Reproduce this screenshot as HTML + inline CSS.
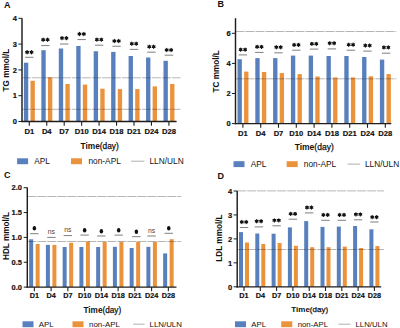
<!DOCTYPE html>
<html><head><meta charset="utf-8"><style>
html,body{margin:0;padding:0;background:#fff;width:400px;height:328px;overflow:hidden}
svg{display:block}
text{font-family:"Liberation Sans", sans-serif}
</style></head><body>
<svg width="400" height="328" viewBox="0 0 400 328">
<rect width="400" height="328" fill="#fff"/>
<rect x="23.90" y="62.7" width="4.35" height="58.80" fill="#5880bd"/>
<rect x="30.50" y="80.8" width="4.35" height="40.70" fill="#eb923c"/>
<line x1="25.10" y1="57.3" x2="33.50" y2="57.3" stroke="#5e5e5e" stroke-width="0.8"/>
<line x1="27.10" y1="50.60" x2="27.10" y2="53.80" stroke="#111" stroke-width="1.15" stroke-linecap="round"/><line x1="25.71" y1="51.40" x2="28.49" y2="53.00" stroke="#111" stroke-width="1.15" stroke-linecap="round"/><line x1="28.49" y1="51.40" x2="25.71" y2="53.00" stroke="#111" stroke-width="1.15" stroke-linecap="round"/><circle cx="27.10" cy="52.20" r="1.25" fill="#111"/>
<line x1="31.50" y1="50.60" x2="31.50" y2="53.80" stroke="#111" stroke-width="1.15" stroke-linecap="round"/><line x1="30.11" y1="51.40" x2="32.89" y2="53.00" stroke="#111" stroke-width="1.15" stroke-linecap="round"/><line x1="32.89" y1="51.40" x2="30.11" y2="53.00" stroke="#111" stroke-width="1.15" stroke-linecap="round"/><circle cx="31.50" cy="52.20" r="1.25" fill="#111"/>
<line x1="29.30" y1="121.5" x2="29.30" y2="125.7" stroke="#1e1e1e" stroke-width="1.1"/>
<text x="29.30" y="134.2" font-size="7.6" font-weight="bold" text-anchor="middle" fill="#111" stroke="#111" stroke-width="0.18">D1</text>
<rect x="41.35" y="50.2" width="4.35" height="71.30" fill="#5880bd"/>
<rect x="47.95" y="77.2" width="4.35" height="44.30" fill="#eb923c"/>
<line x1="41.15" y1="45.6" x2="49.55" y2="45.6" stroke="#5e5e5e" stroke-width="0.8"/>
<line x1="43.15" y1="38.15" x2="43.15" y2="41.35" stroke="#111" stroke-width="1.15" stroke-linecap="round"/><line x1="41.76" y1="38.95" x2="44.54" y2="40.55" stroke="#111" stroke-width="1.15" stroke-linecap="round"/><line x1="44.54" y1="38.95" x2="41.76" y2="40.55" stroke="#111" stroke-width="1.15" stroke-linecap="round"/><circle cx="43.15" cy="39.75" r="1.25" fill="#111"/>
<line x1="47.55" y1="38.15" x2="47.55" y2="41.35" stroke="#111" stroke-width="1.15" stroke-linecap="round"/><line x1="46.16" y1="38.95" x2="48.94" y2="40.55" stroke="#111" stroke-width="1.15" stroke-linecap="round"/><line x1="48.94" y1="38.95" x2="46.16" y2="40.55" stroke="#111" stroke-width="1.15" stroke-linecap="round"/><circle cx="47.55" cy="39.75" r="1.25" fill="#111"/>
<line x1="46.75" y1="121.5" x2="46.75" y2="125.7" stroke="#1e1e1e" stroke-width="1.1"/>
<text x="46.75" y="134.2" font-size="7.6" font-weight="bold" text-anchor="middle" fill="#111" stroke="#111" stroke-width="0.18">D4</text>
<rect x="58.80" y="48.5" width="4.35" height="73.00" fill="#5880bd"/>
<rect x="65.40" y="84.0" width="4.35" height="37.50" fill="#eb923c"/>
<line x1="60.00" y1="44.0" x2="68.40" y2="44.0" stroke="#5e5e5e" stroke-width="0.8"/>
<line x1="62.00" y1="36.50" x2="62.00" y2="39.70" stroke="#111" stroke-width="1.15" stroke-linecap="round"/><line x1="60.61" y1="37.30" x2="63.39" y2="38.90" stroke="#111" stroke-width="1.15" stroke-linecap="round"/><line x1="63.39" y1="37.30" x2="60.61" y2="38.90" stroke="#111" stroke-width="1.15" stroke-linecap="round"/><circle cx="62.00" cy="38.10" r="1.25" fill="#111"/>
<line x1="66.40" y1="36.50" x2="66.40" y2="39.70" stroke="#111" stroke-width="1.15" stroke-linecap="round"/><line x1="65.01" y1="37.30" x2="67.79" y2="38.90" stroke="#111" stroke-width="1.15" stroke-linecap="round"/><line x1="67.79" y1="37.30" x2="65.01" y2="38.90" stroke="#111" stroke-width="1.15" stroke-linecap="round"/><circle cx="66.40" cy="38.10" r="1.25" fill="#111"/>
<line x1="64.20" y1="121.5" x2="64.20" y2="125.7" stroke="#1e1e1e" stroke-width="1.1"/>
<text x="64.20" y="134.2" font-size="7.6" font-weight="bold" text-anchor="middle" fill="#111" stroke="#111" stroke-width="0.18">D7</text>
<rect x="76.25" y="46.0" width="4.35" height="75.50" fill="#5880bd"/>
<rect x="82.85" y="84.6" width="4.35" height="36.90" fill="#eb923c"/>
<line x1="77.45" y1="39.6" x2="85.85" y2="39.6" stroke="#5e5e5e" stroke-width="0.8"/>
<line x1="79.45" y1="32.40" x2="79.45" y2="35.60" stroke="#111" stroke-width="1.15" stroke-linecap="round"/><line x1="78.06" y1="33.20" x2="80.84" y2="34.80" stroke="#111" stroke-width="1.15" stroke-linecap="round"/><line x1="80.84" y1="33.20" x2="78.06" y2="34.80" stroke="#111" stroke-width="1.15" stroke-linecap="round"/><circle cx="79.45" cy="34.00" r="1.25" fill="#111"/>
<line x1="83.85" y1="32.40" x2="83.85" y2="35.60" stroke="#111" stroke-width="1.15" stroke-linecap="round"/><line x1="82.46" y1="33.20" x2="85.24" y2="34.80" stroke="#111" stroke-width="1.15" stroke-linecap="round"/><line x1="85.24" y1="33.20" x2="82.46" y2="34.80" stroke="#111" stroke-width="1.15" stroke-linecap="round"/><circle cx="83.85" cy="34.00" r="1.25" fill="#111"/>
<line x1="81.65" y1="121.5" x2="81.65" y2="125.7" stroke="#1e1e1e" stroke-width="1.1"/>
<text x="81.65" y="134.2" font-size="7.6" font-weight="bold" text-anchor="middle" fill="#111" stroke="#111" stroke-width="0.18">D10</text>
<rect x="93.70" y="51.25" width="4.35" height="70.25" fill="#5880bd"/>
<rect x="100.30" y="88.7" width="4.35" height="32.80" fill="#eb923c"/>
<line x1="94.90" y1="45.2" x2="103.30" y2="45.2" stroke="#5e5e5e" stroke-width="0.8"/>
<line x1="96.90" y1="38.00" x2="96.90" y2="41.20" stroke="#111" stroke-width="1.15" stroke-linecap="round"/><line x1="95.51" y1="38.80" x2="98.29" y2="40.40" stroke="#111" stroke-width="1.15" stroke-linecap="round"/><line x1="98.29" y1="38.80" x2="95.51" y2="40.40" stroke="#111" stroke-width="1.15" stroke-linecap="round"/><circle cx="96.90" cy="39.60" r="1.25" fill="#111"/>
<line x1="101.30" y1="38.00" x2="101.30" y2="41.20" stroke="#111" stroke-width="1.15" stroke-linecap="round"/><line x1="99.91" y1="38.80" x2="102.69" y2="40.40" stroke="#111" stroke-width="1.15" stroke-linecap="round"/><line x1="102.69" y1="38.80" x2="99.91" y2="40.40" stroke="#111" stroke-width="1.15" stroke-linecap="round"/><circle cx="101.30" cy="39.60" r="1.25" fill="#111"/>
<line x1="99.10" y1="121.5" x2="99.10" y2="125.7" stroke="#1e1e1e" stroke-width="1.1"/>
<text x="99.10" y="134.2" font-size="7.6" font-weight="bold" text-anchor="middle" fill="#111" stroke="#111" stroke-width="0.18">D14</text>
<rect x="111.15" y="51.9" width="4.35" height="69.60" fill="#5880bd"/>
<rect x="117.75" y="89.1" width="4.35" height="32.40" fill="#eb923c"/>
<line x1="112.35" y1="46.25" x2="120.75" y2="46.25" stroke="#5e5e5e" stroke-width="0.8"/>
<line x1="114.35" y1="39.40" x2="114.35" y2="42.60" stroke="#111" stroke-width="1.15" stroke-linecap="round"/><line x1="112.96" y1="40.20" x2="115.74" y2="41.80" stroke="#111" stroke-width="1.15" stroke-linecap="round"/><line x1="115.74" y1="40.20" x2="112.96" y2="41.80" stroke="#111" stroke-width="1.15" stroke-linecap="round"/><circle cx="114.35" cy="41.00" r="1.25" fill="#111"/>
<line x1="118.75" y1="39.40" x2="118.75" y2="42.60" stroke="#111" stroke-width="1.15" stroke-linecap="round"/><line x1="117.36" y1="40.20" x2="120.14" y2="41.80" stroke="#111" stroke-width="1.15" stroke-linecap="round"/><line x1="120.14" y1="40.20" x2="117.36" y2="41.80" stroke="#111" stroke-width="1.15" stroke-linecap="round"/><circle cx="118.75" cy="41.00" r="1.25" fill="#111"/>
<line x1="116.55" y1="121.5" x2="116.55" y2="125.7" stroke="#1e1e1e" stroke-width="1.1"/>
<text x="116.55" y="134.2" font-size="7.6" font-weight="bold" text-anchor="middle" fill="#111" stroke="#111" stroke-width="0.18">D18</text>
<rect x="128.60" y="56.0" width="4.35" height="65.50" fill="#5880bd"/>
<rect x="135.20" y="89.1" width="4.35" height="32.40" fill="#eb923c"/>
<line x1="129.80" y1="49.4" x2="138.20" y2="49.4" stroke="#5e5e5e" stroke-width="0.8"/>
<line x1="131.80" y1="42.10" x2="131.80" y2="45.30" stroke="#111" stroke-width="1.15" stroke-linecap="round"/><line x1="130.41" y1="42.90" x2="133.19" y2="44.50" stroke="#111" stroke-width="1.15" stroke-linecap="round"/><line x1="133.19" y1="42.90" x2="130.41" y2="44.50" stroke="#111" stroke-width="1.15" stroke-linecap="round"/><circle cx="131.80" cy="43.70" r="1.25" fill="#111"/>
<line x1="136.20" y1="42.10" x2="136.20" y2="45.30" stroke="#111" stroke-width="1.15" stroke-linecap="round"/><line x1="134.81" y1="42.90" x2="137.59" y2="44.50" stroke="#111" stroke-width="1.15" stroke-linecap="round"/><line x1="137.59" y1="42.90" x2="134.81" y2="44.50" stroke="#111" stroke-width="1.15" stroke-linecap="round"/><circle cx="136.20" cy="43.70" r="1.25" fill="#111"/>
<line x1="134.00" y1="121.5" x2="134.00" y2="125.7" stroke="#1e1e1e" stroke-width="1.1"/>
<text x="134.00" y="134.2" font-size="7.6" font-weight="bold" text-anchor="middle" fill="#111" stroke="#111" stroke-width="0.18">D21</text>
<rect x="146.05" y="57.5" width="4.35" height="64.00" fill="#5880bd"/>
<rect x="152.65" y="86.4" width="4.35" height="35.10" fill="#eb923c"/>
<line x1="147.25" y1="52.2" x2="155.65" y2="52.2" stroke="#5e5e5e" stroke-width="0.8"/>
<line x1="149.25" y1="45.10" x2="149.25" y2="48.30" stroke="#111" stroke-width="1.15" stroke-linecap="round"/><line x1="147.86" y1="45.90" x2="150.64" y2="47.50" stroke="#111" stroke-width="1.15" stroke-linecap="round"/><line x1="150.64" y1="45.90" x2="147.86" y2="47.50" stroke="#111" stroke-width="1.15" stroke-linecap="round"/><circle cx="149.25" cy="46.70" r="1.25" fill="#111"/>
<line x1="153.65" y1="45.10" x2="153.65" y2="48.30" stroke="#111" stroke-width="1.15" stroke-linecap="round"/><line x1="152.26" y1="45.90" x2="155.04" y2="47.50" stroke="#111" stroke-width="1.15" stroke-linecap="round"/><line x1="155.04" y1="45.90" x2="152.26" y2="47.50" stroke="#111" stroke-width="1.15" stroke-linecap="round"/><circle cx="153.65" cy="46.70" r="1.25" fill="#111"/>
<line x1="151.45" y1="121.5" x2="151.45" y2="125.7" stroke="#1e1e1e" stroke-width="1.1"/>
<text x="151.45" y="134.2" font-size="7.6" font-weight="bold" text-anchor="middle" fill="#111" stroke="#111" stroke-width="0.18">D24</text>
<rect x="163.50" y="60.8" width="4.35" height="60.70" fill="#5880bd"/>
<rect x="170.10" y="84.0" width="4.35" height="37.50" fill="#eb923c"/>
<line x1="164.70" y1="55.2" x2="173.10" y2="55.2" stroke="#5e5e5e" stroke-width="0.8"/>
<line x1="166.70" y1="48.40" x2="166.70" y2="51.60" stroke="#111" stroke-width="1.15" stroke-linecap="round"/><line x1="165.31" y1="49.20" x2="168.09" y2="50.80" stroke="#111" stroke-width="1.15" stroke-linecap="round"/><line x1="168.09" y1="49.20" x2="165.31" y2="50.80" stroke="#111" stroke-width="1.15" stroke-linecap="round"/><circle cx="166.70" cy="50.00" r="1.25" fill="#111"/>
<line x1="171.10" y1="48.40" x2="171.10" y2="51.60" stroke="#111" stroke-width="1.15" stroke-linecap="round"/><line x1="169.71" y1="49.20" x2="172.49" y2="50.80" stroke="#111" stroke-width="1.15" stroke-linecap="round"/><line x1="172.49" y1="49.20" x2="169.71" y2="50.80" stroke="#111" stroke-width="1.15" stroke-linecap="round"/><circle cx="171.10" cy="50.00" r="1.25" fill="#111"/>
<line x1="168.90" y1="121.5" x2="168.90" y2="125.7" stroke="#1e1e1e" stroke-width="1.1"/>
<text x="168.90" y="134.2" font-size="7.6" font-weight="bold" text-anchor="middle" fill="#111" stroke="#111" stroke-width="0.18">D28</text>
<line x1="22" y1="77.8" x2="180.5" y2="77.8" stroke="rgba(40,40,40,0.45)" stroke-width="0.75" stroke-dasharray="9,1"/>
<line x1="22" y1="109.3" x2="180.5" y2="109.3" stroke="rgba(40,40,40,0.45)" stroke-width="0.75" stroke-dasharray="9,1"/>
<line x1="22" y1="18.3" x2="22" y2="122.1" stroke="#1e1e1e" stroke-width="1.45"/>
<line x1="21.3" y1="121.5" x2="176.6" y2="121.5" stroke="#1e1e1e" stroke-width="1.35"/>
<line x1="18.4" y1="121.50" x2="22" y2="121.50" stroke="#1e1e1e" stroke-width="1"/>
<text x="16.8" y="124.25" font-size="7.5" font-weight="bold" text-anchor="end" fill="#111" stroke="#111" stroke-width="0.18">0</text>
<line x1="18.4" y1="95.70" x2="22" y2="95.70" stroke="#1e1e1e" stroke-width="1"/>
<text x="16.8" y="98.45" font-size="7.5" font-weight="bold" text-anchor="end" fill="#111" stroke="#111" stroke-width="0.18">1</text>
<line x1="18.4" y1="69.90" x2="22" y2="69.90" stroke="#1e1e1e" stroke-width="1"/>
<text x="16.8" y="72.65" font-size="7.5" font-weight="bold" text-anchor="end" fill="#111" stroke="#111" stroke-width="0.18">2</text>
<line x1="18.4" y1="44.10" x2="22" y2="44.10" stroke="#1e1e1e" stroke-width="1"/>
<text x="16.8" y="46.85" font-size="7.5" font-weight="bold" text-anchor="end" fill="#111" stroke="#111" stroke-width="0.18">3</text>
<line x1="18.4" y1="18.30" x2="22" y2="18.30" stroke="#1e1e1e" stroke-width="1"/>
<text x="16.8" y="21.05" font-size="7.5" font-weight="bold" text-anchor="end" fill="#111" stroke="#111" stroke-width="0.18">4</text>
<text x="9.1" y="70" font-size="8.2" font-weight="bold" text-anchor="middle" fill="#111" transform="rotate(-90 9.1 70)">TG mmol/L</text>
<text x="99.6" y="148.5" font-size="8.3" text-anchor="middle" fill="#111"><tspan font-weight="bold">Time</tspan><tspan stroke="#111" stroke-width="0.25">(day)</tspan></text>
<text x="4" y="7.6" font-size="9" font-weight="bold" fill="#111">A</text>
<rect x="17.1" y="158.3" width="11" height="5.9" fill="#5880bd"/>
<text x="34.25" y="164.20000000000002" font-size="8.3" fill="#111">APL</text>
<rect x="71" y="158.3" width="11" height="5.9" fill="#eb923c"/>
<text x="88.5" y="164.20000000000002" font-size="8.3" fill="#111">non-APL</text>
<line x1="131" y1="161.20000000000002" x2="144.4" y2="161.20000000000002" stroke="#9a9a9a" stroke-width="0.8"/>
<text x="149.5" y="164.20000000000002" font-size="8.3" fill="#111">LLN/ULN</text>
<rect x="237.50" y="59.2" width="4.35" height="64.40" fill="#5880bd"/>
<rect x="244.10" y="71.6" width="4.35" height="52.00" fill="#eb923c"/>
<line x1="238.70" y1="54.9" x2="247.10" y2="54.9" stroke="#5e5e5e" stroke-width="0.8"/>
<line x1="240.70" y1="48.00" x2="240.70" y2="51.20" stroke="#111" stroke-width="1.15" stroke-linecap="round"/><line x1="239.31" y1="48.80" x2="242.09" y2="50.40" stroke="#111" stroke-width="1.15" stroke-linecap="round"/><line x1="242.09" y1="48.80" x2="239.31" y2="50.40" stroke="#111" stroke-width="1.15" stroke-linecap="round"/><circle cx="240.70" cy="49.60" r="1.25" fill="#111"/>
<line x1="245.10" y1="48.00" x2="245.10" y2="51.20" stroke="#111" stroke-width="1.15" stroke-linecap="round"/><line x1="243.71" y1="48.80" x2="246.49" y2="50.40" stroke="#111" stroke-width="1.15" stroke-linecap="round"/><line x1="246.49" y1="48.80" x2="243.71" y2="50.40" stroke="#111" stroke-width="1.15" stroke-linecap="round"/><circle cx="245.10" cy="49.60" r="1.25" fill="#111"/>
<line x1="242.90" y1="123.6" x2="242.90" y2="127.8" stroke="#1e1e1e" stroke-width="1.1"/>
<text x="242.90" y="135.6" font-size="7.6" font-weight="bold" text-anchor="middle" fill="#111" stroke="#111" stroke-width="0.18">D1</text>
<rect x="255.30" y="58.1" width="4.35" height="65.50" fill="#5880bd"/>
<rect x="261.90" y="72.0" width="4.35" height="51.60" fill="#eb923c"/>
<line x1="255.10" y1="52.4" x2="263.50" y2="52.4" stroke="#5e5e5e" stroke-width="0.8"/>
<line x1="257.10" y1="45.20" x2="257.10" y2="48.40" stroke="#111" stroke-width="1.15" stroke-linecap="round"/><line x1="255.71" y1="46.00" x2="258.49" y2="47.60" stroke="#111" stroke-width="1.15" stroke-linecap="round"/><line x1="258.49" y1="46.00" x2="255.71" y2="47.60" stroke="#111" stroke-width="1.15" stroke-linecap="round"/><circle cx="257.10" cy="46.80" r="1.25" fill="#111"/>
<line x1="261.50" y1="45.20" x2="261.50" y2="48.40" stroke="#111" stroke-width="1.15" stroke-linecap="round"/><line x1="260.11" y1="46.00" x2="262.89" y2="47.60" stroke="#111" stroke-width="1.15" stroke-linecap="round"/><line x1="262.89" y1="46.00" x2="260.11" y2="47.60" stroke="#111" stroke-width="1.15" stroke-linecap="round"/><circle cx="261.50" cy="46.80" r="1.25" fill="#111"/>
<line x1="260.70" y1="123.6" x2="260.70" y2="127.8" stroke="#1e1e1e" stroke-width="1.1"/>
<text x="260.70" y="135.6" font-size="7.6" font-weight="bold" text-anchor="middle" fill="#111" stroke="#111" stroke-width="0.18">D4</text>
<rect x="273.10" y="58.1" width="4.35" height="65.50" fill="#5880bd"/>
<rect x="279.70" y="73.1" width="4.35" height="50.50" fill="#eb923c"/>
<line x1="274.30" y1="52.8" x2="282.70" y2="52.8" stroke="#5e5e5e" stroke-width="0.8"/>
<line x1="276.30" y1="45.60" x2="276.30" y2="48.80" stroke="#111" stroke-width="1.15" stroke-linecap="round"/><line x1="274.91" y1="46.40" x2="277.69" y2="48.00" stroke="#111" stroke-width="1.15" stroke-linecap="round"/><line x1="277.69" y1="46.40" x2="274.91" y2="48.00" stroke="#111" stroke-width="1.15" stroke-linecap="round"/><circle cx="276.30" cy="47.20" r="1.25" fill="#111"/>
<line x1="280.70" y1="45.60" x2="280.70" y2="48.80" stroke="#111" stroke-width="1.15" stroke-linecap="round"/><line x1="279.31" y1="46.40" x2="282.09" y2="48.00" stroke="#111" stroke-width="1.15" stroke-linecap="round"/><line x1="282.09" y1="46.40" x2="279.31" y2="48.00" stroke="#111" stroke-width="1.15" stroke-linecap="round"/><circle cx="280.70" cy="47.20" r="1.25" fill="#111"/>
<line x1="278.50" y1="123.6" x2="278.50" y2="127.8" stroke="#1e1e1e" stroke-width="1.1"/>
<text x="278.50" y="135.6" font-size="7.6" font-weight="bold" text-anchor="middle" fill="#111" stroke="#111" stroke-width="0.18">D7</text>
<rect x="290.90" y="55.6" width="4.35" height="68.00" fill="#5880bd"/>
<rect x="297.50" y="74.1" width="4.35" height="49.50" fill="#eb923c"/>
<line x1="292.10" y1="50.2" x2="300.50" y2="50.2" stroke="#5e5e5e" stroke-width="0.8"/>
<line x1="294.10" y1="43.30" x2="294.10" y2="46.50" stroke="#111" stroke-width="1.15" stroke-linecap="round"/><line x1="292.71" y1="44.10" x2="295.49" y2="45.70" stroke="#111" stroke-width="1.15" stroke-linecap="round"/><line x1="295.49" y1="44.10" x2="292.71" y2="45.70" stroke="#111" stroke-width="1.15" stroke-linecap="round"/><circle cx="294.10" cy="44.90" r="1.25" fill="#111"/>
<line x1="298.50" y1="43.30" x2="298.50" y2="46.50" stroke="#111" stroke-width="1.15" stroke-linecap="round"/><line x1="297.11" y1="44.10" x2="299.89" y2="45.70" stroke="#111" stroke-width="1.15" stroke-linecap="round"/><line x1="299.89" y1="44.10" x2="297.11" y2="45.70" stroke="#111" stroke-width="1.15" stroke-linecap="round"/><circle cx="298.50" cy="44.90" r="1.25" fill="#111"/>
<line x1="296.30" y1="123.6" x2="296.30" y2="127.8" stroke="#1e1e1e" stroke-width="1.1"/>
<text x="296.30" y="135.6" font-size="7.6" font-weight="bold" text-anchor="middle" fill="#111" stroke="#111" stroke-width="0.18">D10</text>
<rect x="308.70" y="55.6" width="4.35" height="68.00" fill="#5880bd"/>
<rect x="315.30" y="76.5" width="4.35" height="47.10" fill="#eb923c"/>
<line x1="309.90" y1="49.1" x2="318.30" y2="49.1" stroke="#5e5e5e" stroke-width="0.8"/>
<line x1="311.90" y1="42.20" x2="311.90" y2="45.40" stroke="#111" stroke-width="1.15" stroke-linecap="round"/><line x1="310.51" y1="43.00" x2="313.29" y2="44.60" stroke="#111" stroke-width="1.15" stroke-linecap="round"/><line x1="313.29" y1="43.00" x2="310.51" y2="44.60" stroke="#111" stroke-width="1.15" stroke-linecap="round"/><circle cx="311.90" cy="43.80" r="1.25" fill="#111"/>
<line x1="316.30" y1="42.20" x2="316.30" y2="45.40" stroke="#111" stroke-width="1.15" stroke-linecap="round"/><line x1="314.91" y1="43.00" x2="317.69" y2="44.60" stroke="#111" stroke-width="1.15" stroke-linecap="round"/><line x1="317.69" y1="43.00" x2="314.91" y2="44.60" stroke="#111" stroke-width="1.15" stroke-linecap="round"/><circle cx="316.30" cy="43.80" r="1.25" fill="#111"/>
<line x1="314.10" y1="123.6" x2="314.10" y2="127.8" stroke="#1e1e1e" stroke-width="1.1"/>
<text x="314.10" y="135.6" font-size="7.6" font-weight="bold" text-anchor="middle" fill="#111" stroke="#111" stroke-width="0.18">D14</text>
<rect x="326.50" y="56.0" width="4.35" height="67.60" fill="#5880bd"/>
<rect x="333.10" y="77.4" width="4.35" height="46.20" fill="#eb923c"/>
<line x1="327.70" y1="48.9" x2="336.10" y2="48.9" stroke="#5e5e5e" stroke-width="0.8"/>
<line x1="329.70" y1="41.60" x2="329.70" y2="44.80" stroke="#111" stroke-width="1.15" stroke-linecap="round"/><line x1="328.31" y1="42.40" x2="331.09" y2="44.00" stroke="#111" stroke-width="1.15" stroke-linecap="round"/><line x1="331.09" y1="42.40" x2="328.31" y2="44.00" stroke="#111" stroke-width="1.15" stroke-linecap="round"/><circle cx="329.70" cy="43.20" r="1.25" fill="#111"/>
<line x1="334.10" y1="41.60" x2="334.10" y2="44.80" stroke="#111" stroke-width="1.15" stroke-linecap="round"/><line x1="332.71" y1="42.40" x2="335.49" y2="44.00" stroke="#111" stroke-width="1.15" stroke-linecap="round"/><line x1="335.49" y1="42.40" x2="332.71" y2="44.00" stroke="#111" stroke-width="1.15" stroke-linecap="round"/><circle cx="334.10" cy="43.20" r="1.25" fill="#111"/>
<line x1="331.90" y1="123.6" x2="331.90" y2="127.8" stroke="#1e1e1e" stroke-width="1.1"/>
<text x="331.90" y="135.6" font-size="7.6" font-weight="bold" text-anchor="middle" fill="#111" stroke="#111" stroke-width="0.18">D18</text>
<rect x="344.30" y="56.0" width="4.35" height="67.60" fill="#5880bd"/>
<rect x="350.90" y="77.4" width="4.35" height="46.20" fill="#eb923c"/>
<line x1="346.70" y1="50.2" x2="355.10" y2="50.2" stroke="#5e5e5e" stroke-width="0.8"/>
<line x1="348.70" y1="43.10" x2="348.70" y2="46.30" stroke="#111" stroke-width="1.15" stroke-linecap="round"/><line x1="347.31" y1="43.90" x2="350.09" y2="45.50" stroke="#111" stroke-width="1.15" stroke-linecap="round"/><line x1="350.09" y1="43.90" x2="347.31" y2="45.50" stroke="#111" stroke-width="1.15" stroke-linecap="round"/><circle cx="348.70" cy="44.70" r="1.25" fill="#111"/>
<line x1="353.10" y1="43.10" x2="353.10" y2="46.30" stroke="#111" stroke-width="1.15" stroke-linecap="round"/><line x1="351.71" y1="43.90" x2="354.49" y2="45.50" stroke="#111" stroke-width="1.15" stroke-linecap="round"/><line x1="354.49" y1="43.90" x2="351.71" y2="45.50" stroke="#111" stroke-width="1.15" stroke-linecap="round"/><circle cx="353.10" cy="44.70" r="1.25" fill="#111"/>
<line x1="349.70" y1="123.6" x2="349.70" y2="127.8" stroke="#1e1e1e" stroke-width="1.1"/>
<text x="349.70" y="135.6" font-size="7.6" font-weight="bold" text-anchor="middle" fill="#111" stroke="#111" stroke-width="0.18">D21</text>
<rect x="362.10" y="57.0" width="4.35" height="66.60" fill="#5880bd"/>
<rect x="368.70" y="76.3" width="4.35" height="47.30" fill="#eb923c"/>
<line x1="363.30" y1="51.1" x2="371.70" y2="51.1" stroke="#5e5e5e" stroke-width="0.8"/>
<line x1="365.30" y1="43.90" x2="365.30" y2="47.10" stroke="#111" stroke-width="1.15" stroke-linecap="round"/><line x1="363.91" y1="44.70" x2="366.69" y2="46.30" stroke="#111" stroke-width="1.15" stroke-linecap="round"/><line x1="366.69" y1="44.70" x2="363.91" y2="46.30" stroke="#111" stroke-width="1.15" stroke-linecap="round"/><circle cx="365.30" cy="45.50" r="1.25" fill="#111"/>
<line x1="369.70" y1="43.90" x2="369.70" y2="47.10" stroke="#111" stroke-width="1.15" stroke-linecap="round"/><line x1="368.31" y1="44.70" x2="371.09" y2="46.30" stroke="#111" stroke-width="1.15" stroke-linecap="round"/><line x1="371.09" y1="44.70" x2="368.31" y2="46.30" stroke="#111" stroke-width="1.15" stroke-linecap="round"/><circle cx="369.70" cy="45.50" r="1.25" fill="#111"/>
<line x1="367.50" y1="123.6" x2="367.50" y2="127.8" stroke="#1e1e1e" stroke-width="1.1"/>
<text x="367.50" y="135.6" font-size="7.6" font-weight="bold" text-anchor="middle" fill="#111" stroke="#111" stroke-width="0.18">D24</text>
<rect x="379.90" y="59.6" width="4.35" height="64.00" fill="#5880bd"/>
<rect x="386.50" y="74.1" width="4.35" height="49.50" fill="#eb923c"/>
<line x1="381.90" y1="53.2" x2="390.30" y2="53.2" stroke="#5e5e5e" stroke-width="0.8"/>
<line x1="383.90" y1="45.80" x2="383.90" y2="49.00" stroke="#111" stroke-width="1.15" stroke-linecap="round"/><line x1="382.51" y1="46.60" x2="385.29" y2="48.20" stroke="#111" stroke-width="1.15" stroke-linecap="round"/><line x1="385.29" y1="46.60" x2="382.51" y2="48.20" stroke="#111" stroke-width="1.15" stroke-linecap="round"/><circle cx="383.90" cy="47.40" r="1.25" fill="#111"/>
<line x1="388.30" y1="45.80" x2="388.30" y2="49.00" stroke="#111" stroke-width="1.15" stroke-linecap="round"/><line x1="386.91" y1="46.60" x2="389.69" y2="48.20" stroke="#111" stroke-width="1.15" stroke-linecap="round"/><line x1="389.69" y1="46.60" x2="386.91" y2="48.20" stroke="#111" stroke-width="1.15" stroke-linecap="round"/><circle cx="388.30" cy="47.40" r="1.25" fill="#111"/>
<line x1="385.30" y1="123.6" x2="385.30" y2="127.8" stroke="#1e1e1e" stroke-width="1.1"/>
<text x="385.30" y="135.6" font-size="7.6" font-weight="bold" text-anchor="middle" fill="#111" stroke="#111" stroke-width="0.18">D28</text>
<line x1="235.5" y1="31.5" x2="396.5" y2="31.5" stroke="rgba(40,40,40,0.45)" stroke-width="0.75" stroke-dasharray="9,1"/>
<line x1="235.5" y1="78.8" x2="396.5" y2="78.8" stroke="rgba(40,40,40,0.45)" stroke-width="0.75" stroke-dasharray="9,1"/>
<line x1="235.5" y1="18.2" x2="235.5" y2="124.19999999999999" stroke="#1e1e1e" stroke-width="1.45"/>
<line x1="234.8" y1="123.6" x2="391.3" y2="123.6" stroke="#1e1e1e" stroke-width="1.35"/>
<line x1="231.9" y1="123.60" x2="235.5" y2="123.60" stroke="#1e1e1e" stroke-width="1"/>
<text x="230.6" y="126.35" font-size="7.5" font-weight="bold" text-anchor="end" fill="#111" stroke="#111" stroke-width="0.18">0</text>
<line x1="231.9" y1="93.50" x2="235.5" y2="93.50" stroke="#1e1e1e" stroke-width="1"/>
<text x="230.6" y="96.25" font-size="7.5" font-weight="bold" text-anchor="end" fill="#111" stroke="#111" stroke-width="0.18">2</text>
<line x1="231.9" y1="63.40" x2="235.5" y2="63.40" stroke="#1e1e1e" stroke-width="1"/>
<text x="230.6" y="66.15" font-size="7.5" font-weight="bold" text-anchor="end" fill="#111" stroke="#111" stroke-width="0.18">4</text>
<line x1="231.9" y1="33.30" x2="235.5" y2="33.30" stroke="#1e1e1e" stroke-width="1"/>
<text x="230.6" y="36.05" font-size="7.5" font-weight="bold" text-anchor="end" fill="#111" stroke="#111" stroke-width="0.18">6</text>
<text x="219.4" y="71.3" font-size="8.2" font-weight="bold" text-anchor="middle" fill="#111" transform="rotate(-90 219.4 71.3)">TC mmol/L</text>
<text x="314.2" y="149.6" font-size="8.5" text-anchor="middle" fill="#111"><tspan font-weight="bold">Time</tspan><tspan stroke="#111" stroke-width="0.25">(day)</tspan></text>
<text x="217.5" y="7.3" font-size="9" font-weight="bold" fill="#111">B</text>
<rect x="233.5" y="161.2" width="11" height="5.9" fill="#5880bd"/>
<text x="250.8" y="167.1" font-size="8.3" fill="#111">APL</text>
<rect x="286.7" y="161.2" width="11" height="5.9" fill="#eb923c"/>
<text x="303.8" y="167.1" font-size="8.3" fill="#111">non-APL</text>
<line x1="347.5" y1="164.1" x2="360" y2="164.1" stroke="#9a9a9a" stroke-width="0.8"/>
<text x="365.0" y="167.1" font-size="8.3" fill="#111">LLN/ULN</text>
<rect x="29.15" y="239.3" width="4.0" height="47.80" fill="#5880bd"/>
<rect x="35.65" y="244.0" width="4.0" height="43.10" fill="#eb923c"/>
<line x1="30.15" y1="233.7" x2="38.55" y2="233.7" stroke="#5e5e5e" stroke-width="0.8"/>
<ellipse cx="34.35" cy="228.3" rx="1.75" ry="2.25" fill="#111"/>
<line x1="34.35" y1="287.1" x2="34.35" y2="291.3" stroke="#1e1e1e" stroke-width="1.1"/>
<text x="34.35" y="298.1" font-size="7.25" font-weight="bold" text-anchor="middle" fill="#111" stroke="#111" stroke-width="0.18">D1</text>
<rect x="45.90" y="244.9" width="4.0" height="42.20" fill="#5880bd"/>
<rect x="52.40" y="244.9" width="4.0" height="42.20" fill="#eb923c"/>
<line x1="47.20" y1="237.4" x2="55.60" y2="237.4" stroke="#5e5e5e" stroke-width="0.8"/>
<text x="51.40" y="233.8" font-size="6.8" text-anchor="middle" fill="#444">ns</text>
<line x1="51.10" y1="287.1" x2="51.10" y2="291.3" stroke="#1e1e1e" stroke-width="1.1"/>
<text x="51.10" y="298.1" font-size="7.25" font-weight="bold" text-anchor="middle" fill="#111" stroke="#111" stroke-width="0.18">D4</text>
<rect x="62.65" y="247.0" width="4.0" height="40.10" fill="#5880bd"/>
<rect x="69.15" y="242.8" width="4.0" height="44.30" fill="#eb923c"/>
<line x1="63.65" y1="235.6" x2="72.05" y2="235.6" stroke="#5e5e5e" stroke-width="0.8"/>
<text x="67.85" y="232.20000000000002" font-size="6.8" text-anchor="middle" fill="#444">ns</text>
<line x1="67.85" y1="287.1" x2="67.85" y2="291.3" stroke="#1e1e1e" stroke-width="1.1"/>
<text x="67.85" y="298.1" font-size="7.25" font-weight="bold" text-anchor="middle" fill="#111" stroke="#111" stroke-width="0.18">D7</text>
<rect x="79.40" y="247.0" width="4.0" height="40.10" fill="#5880bd"/>
<rect x="85.90" y="241.5" width="4.0" height="45.60" fill="#eb923c"/>
<line x1="80.40" y1="235.1" x2="88.80" y2="235.1" stroke="#5e5e5e" stroke-width="0.8"/>
<ellipse cx="84.60" cy="230.20000000000002" rx="1.75" ry="2.25" fill="#111"/>
<line x1="84.60" y1="287.1" x2="84.60" y2="291.3" stroke="#1e1e1e" stroke-width="1.1"/>
<text x="84.60" y="298.1" font-size="7.25" font-weight="bold" text-anchor="middle" fill="#111" stroke="#111" stroke-width="0.18">D10</text>
<rect x="96.15" y="247.0" width="4.0" height="40.10" fill="#5880bd"/>
<rect x="102.65" y="241.9" width="4.0" height="45.20" fill="#eb923c"/>
<line x1="97.15" y1="236.0" x2="105.55" y2="236.0" stroke="#5e5e5e" stroke-width="0.8"/>
<ellipse cx="101.35" cy="231.3" rx="1.75" ry="2.25" fill="#111"/>
<line x1="101.35" y1="287.1" x2="101.35" y2="291.3" stroke="#1e1e1e" stroke-width="1.1"/>
<text x="101.35" y="298.1" font-size="7.25" font-weight="bold" text-anchor="middle" fill="#111" stroke="#111" stroke-width="0.18">D14</text>
<rect x="112.90" y="246.8" width="4.0" height="40.30" fill="#5880bd"/>
<rect x="119.40" y="241.9" width="4.0" height="45.20" fill="#eb923c"/>
<line x1="114.50" y1="235.1" x2="122.90" y2="235.1" stroke="#5e5e5e" stroke-width="0.8"/>
<ellipse cx="118.70" cy="230.20000000000002" rx="1.75" ry="2.25" fill="#111"/>
<line x1="118.10" y1="287.1" x2="118.10" y2="291.3" stroke="#1e1e1e" stroke-width="1.1"/>
<text x="118.10" y="298.1" font-size="7.25" font-weight="bold" text-anchor="middle" fill="#111" stroke="#111" stroke-width="0.18">D18</text>
<rect x="129.65" y="248.0" width="4.0" height="39.10" fill="#5880bd"/>
<rect x="136.15" y="241.9" width="4.0" height="45.20" fill="#eb923c"/>
<line x1="132.15" y1="236.7" x2="140.55" y2="236.7" stroke="#5e5e5e" stroke-width="0.8"/>
<ellipse cx="136.35" cy="231.8" rx="1.75" ry="2.25" fill="#111"/>
<line x1="134.85" y1="287.1" x2="134.85" y2="291.3" stroke="#1e1e1e" stroke-width="1.1"/>
<text x="134.85" y="298.1" font-size="7.25" font-weight="bold" text-anchor="middle" fill="#111" stroke="#111" stroke-width="0.18">D21</text>
<rect x="146.40" y="246.8" width="4.0" height="40.30" fill="#5880bd"/>
<rect x="152.90" y="241.9" width="4.0" height="45.20" fill="#eb923c"/>
<line x1="147.40" y1="236.0" x2="155.80" y2="236.0" stroke="#5e5e5e" stroke-width="0.8"/>
<text x="151.60" y="232.60000000000002" font-size="6.8" text-anchor="middle" fill="#444">ns</text>
<line x1="151.60" y1="287.1" x2="151.60" y2="291.3" stroke="#1e1e1e" stroke-width="1.1"/>
<text x="151.60" y="298.1" font-size="7.25" font-weight="bold" text-anchor="middle" fill="#111" stroke="#111" stroke-width="0.18">D24</text>
<rect x="163.15" y="253.4" width="4.0" height="33.70" fill="#5880bd"/>
<rect x="169.65" y="239.2" width="4.0" height="47.90" fill="#eb923c"/>
<line x1="164.55" y1="233.3" x2="172.95" y2="233.3" stroke="#5e5e5e" stroke-width="0.8"/>
<ellipse cx="168.75" cy="228.3" rx="1.75" ry="2.25" fill="#111"/>
<line x1="168.35" y1="287.1" x2="168.35" y2="291.3" stroke="#1e1e1e" stroke-width="1.1"/>
<text x="168.35" y="298.1" font-size="7.25" font-weight="bold" text-anchor="middle" fill="#111" stroke="#111" stroke-width="0.18">D28</text>
<line x1="27.3" y1="196.5" x2="181.2" y2="196.5" stroke="rgba(40,40,40,0.45)" stroke-width="0.75" stroke-dasharray="9,1"/>
<line x1="27.3" y1="241.5" x2="181.2" y2="241.5" stroke="rgba(40,40,40,0.45)" stroke-width="0.75" stroke-dasharray="9,1"/>
<line x1="27.3" y1="187.5" x2="27.3" y2="287.70000000000005" stroke="#1e1e1e" stroke-width="1.45"/>
<line x1="26.6" y1="287.1" x2="176.5" y2="287.1" stroke="#1e1e1e" stroke-width="1.35"/>
<line x1="23.7" y1="287.10" x2="27.3" y2="287.10" stroke="#1e1e1e" stroke-width="1"/>
<text x="22.0" y="289.85" font-size="7.5" font-weight="bold" text-anchor="end" fill="#111" stroke="#111" stroke-width="0.18">0.0</text>
<line x1="23.7" y1="262.25" x2="27.3" y2="262.25" stroke="#1e1e1e" stroke-width="1"/>
<text x="22.0" y="265.00" font-size="7.5" font-weight="bold" text-anchor="end" fill="#111" stroke="#111" stroke-width="0.18">0.5</text>
<line x1="23.7" y1="237.40" x2="27.3" y2="237.40" stroke="#1e1e1e" stroke-width="1"/>
<text x="22.0" y="240.15" font-size="7.5" font-weight="bold" text-anchor="end" fill="#111" stroke="#111" stroke-width="0.18">1.0</text>
<line x1="23.7" y1="212.55" x2="27.3" y2="212.55" stroke="#1e1e1e" stroke-width="1"/>
<text x="22.0" y="215.30" font-size="7.5" font-weight="bold" text-anchor="end" fill="#111" stroke="#111" stroke-width="0.18">1.5</text>
<line x1="23.7" y1="187.70" x2="27.3" y2="187.70" stroke="#1e1e1e" stroke-width="1"/>
<text x="22.0" y="190.45" font-size="7.5" font-weight="bold" text-anchor="end" fill="#111" stroke="#111" stroke-width="0.18">2.0</text>
<text x="8.5" y="236" font-size="8.2" font-weight="bold" text-anchor="middle" fill="#111" transform="rotate(-90 8.5 236)">HDL mmol/L</text>
<text x="102.3" y="312.8" font-size="8.2" text-anchor="middle" fill="#111"><tspan font-weight="bold">Time</tspan><tspan stroke="#111" stroke-width="0.25">(day)</tspan></text>
<text x="4" y="178.3" font-size="9" font-weight="bold" fill="#111">C</text>
<rect x="22.5" y="321.3" width="11" height="5.9" fill="#5880bd"/>
<text x="38.75" y="327.2" font-size="7.9" fill="#111">APL</text>
<rect x="72.5" y="321.3" width="11" height="5.9" fill="#eb923c"/>
<text x="89.1" y="327.2" font-size="7.9" fill="#111">non-APL</text>
<line x1="133.2" y1="324.2" x2="144.6" y2="324.2" stroke="#9a9a9a" stroke-width="0.8"/>
<text x="149.5" y="327.2" font-size="7.9" fill="#111">LLN/ULN</text>
<rect x="239.00" y="232.1" width="4.0" height="54.70" fill="#5880bd"/>
<rect x="245.00" y="242.5" width="4.0" height="44.30" fill="#eb923c"/>
<line x1="239.80" y1="227.5" x2="248.20" y2="227.5" stroke="#5e5e5e" stroke-width="0.8"/>
<line x1="241.80" y1="220.40" x2="241.80" y2="223.60" stroke="#111" stroke-width="1.15" stroke-linecap="round"/><line x1="240.41" y1="221.20" x2="243.19" y2="222.80" stroke="#111" stroke-width="1.15" stroke-linecap="round"/><line x1="243.19" y1="221.20" x2="240.41" y2="222.80" stroke="#111" stroke-width="1.15" stroke-linecap="round"/><circle cx="241.80" cy="222.00" r="1.25" fill="#111"/>
<line x1="246.20" y1="220.40" x2="246.20" y2="223.60" stroke="#111" stroke-width="1.15" stroke-linecap="round"/><line x1="244.81" y1="221.20" x2="247.59" y2="222.80" stroke="#111" stroke-width="1.15" stroke-linecap="round"/><line x1="247.59" y1="221.20" x2="244.81" y2="222.80" stroke="#111" stroke-width="1.15" stroke-linecap="round"/><circle cx="246.20" cy="222.00" r="1.25" fill="#111"/>
<line x1="244.00" y1="286.8" x2="244.00" y2="291.0" stroke="#1e1e1e" stroke-width="1.1"/>
<text x="244.00" y="298.1" font-size="7.25" font-weight="bold" text-anchor="middle" fill="#111" stroke="#111" stroke-width="0.18">D1</text>
<rect x="255.30" y="233.5" width="4.0" height="53.30" fill="#5880bd"/>
<rect x="261.30" y="243.9" width="4.0" height="42.90" fill="#eb923c"/>
<line x1="254.70" y1="226.9" x2="263.10" y2="226.9" stroke="#5e5e5e" stroke-width="0.8"/>
<line x1="256.70" y1="219.60" x2="256.70" y2="222.80" stroke="#111" stroke-width="1.15" stroke-linecap="round"/><line x1="255.31" y1="220.40" x2="258.09" y2="222.00" stroke="#111" stroke-width="1.15" stroke-linecap="round"/><line x1="258.09" y1="220.40" x2="255.31" y2="222.00" stroke="#111" stroke-width="1.15" stroke-linecap="round"/><circle cx="256.70" cy="221.20" r="1.25" fill="#111"/>
<line x1="261.10" y1="219.60" x2="261.10" y2="222.80" stroke="#111" stroke-width="1.15" stroke-linecap="round"/><line x1="259.71" y1="220.40" x2="262.49" y2="222.00" stroke="#111" stroke-width="1.15" stroke-linecap="round"/><line x1="262.49" y1="220.40" x2="259.71" y2="222.00" stroke="#111" stroke-width="1.15" stroke-linecap="round"/><circle cx="261.10" cy="221.20" r="1.25" fill="#111"/>
<line x1="260.30" y1="286.8" x2="260.30" y2="291.0" stroke="#1e1e1e" stroke-width="1.1"/>
<text x="260.30" y="298.1" font-size="7.25" font-weight="bold" text-anchor="middle" fill="#111" stroke="#111" stroke-width="0.18">D4</text>
<rect x="271.60" y="233.7" width="4.0" height="53.10" fill="#5880bd"/>
<rect x="277.60" y="243.0" width="4.0" height="43.80" fill="#eb923c"/>
<line x1="272.40" y1="225.79999999999998" x2="280.80" y2="225.79999999999998" stroke="#5e5e5e" stroke-width="0.8"/>
<line x1="274.40" y1="218.70" x2="274.40" y2="221.90" stroke="#111" stroke-width="1.15" stroke-linecap="round"/><line x1="273.01" y1="219.50" x2="275.79" y2="221.10" stroke="#111" stroke-width="1.15" stroke-linecap="round"/><line x1="275.79" y1="219.50" x2="273.01" y2="221.10" stroke="#111" stroke-width="1.15" stroke-linecap="round"/><circle cx="274.40" cy="220.30" r="1.25" fill="#111"/>
<line x1="278.80" y1="218.70" x2="278.80" y2="221.90" stroke="#111" stroke-width="1.15" stroke-linecap="round"/><line x1="277.41" y1="219.50" x2="280.19" y2="221.10" stroke="#111" stroke-width="1.15" stroke-linecap="round"/><line x1="280.19" y1="219.50" x2="277.41" y2="221.10" stroke="#111" stroke-width="1.15" stroke-linecap="round"/><circle cx="278.80" cy="220.30" r="1.25" fill="#111"/>
<line x1="276.60" y1="286.8" x2="276.60" y2="291.0" stroke="#1e1e1e" stroke-width="1.1"/>
<text x="276.60" y="298.1" font-size="7.25" font-weight="bold" text-anchor="middle" fill="#111" stroke="#111" stroke-width="0.18">D7</text>
<rect x="287.90" y="227.4" width="4.0" height="59.40" fill="#5880bd"/>
<rect x="293.90" y="245.8" width="4.0" height="41.00" fill="#eb923c"/>
<line x1="288.70" y1="219.2" x2="297.10" y2="219.2" stroke="#5e5e5e" stroke-width="0.8"/>
<line x1="290.70" y1="212.20" x2="290.70" y2="215.40" stroke="#111" stroke-width="1.15" stroke-linecap="round"/><line x1="289.31" y1="213.00" x2="292.09" y2="214.60" stroke="#111" stroke-width="1.15" stroke-linecap="round"/><line x1="292.09" y1="213.00" x2="289.31" y2="214.60" stroke="#111" stroke-width="1.15" stroke-linecap="round"/><circle cx="290.70" cy="213.80" r="1.25" fill="#111"/>
<line x1="295.10" y1="212.20" x2="295.10" y2="215.40" stroke="#111" stroke-width="1.15" stroke-linecap="round"/><line x1="293.71" y1="213.00" x2="296.49" y2="214.60" stroke="#111" stroke-width="1.15" stroke-linecap="round"/><line x1="296.49" y1="213.00" x2="293.71" y2="214.60" stroke="#111" stroke-width="1.15" stroke-linecap="round"/><circle cx="295.10" cy="213.80" r="1.25" fill="#111"/>
<line x1="292.90" y1="286.8" x2="292.90" y2="291.0" stroke="#1e1e1e" stroke-width="1.1"/>
<text x="292.90" y="298.1" font-size="7.25" font-weight="bold" text-anchor="middle" fill="#111" stroke="#111" stroke-width="0.18">D10</text>
<rect x="304.20" y="221.1" width="4.0" height="65.70" fill="#5880bd"/>
<rect x="310.20" y="247.2" width="4.0" height="39.60" fill="#eb923c"/>
<line x1="305.00" y1="212.9" x2="313.40" y2="212.9" stroke="#5e5e5e" stroke-width="0.8"/>
<line x1="307.00" y1="205.90" x2="307.00" y2="209.10" stroke="#111" stroke-width="1.15" stroke-linecap="round"/><line x1="305.61" y1="206.70" x2="308.39" y2="208.30" stroke="#111" stroke-width="1.15" stroke-linecap="round"/><line x1="308.39" y1="206.70" x2="305.61" y2="208.30" stroke="#111" stroke-width="1.15" stroke-linecap="round"/><circle cx="307.00" cy="207.50" r="1.25" fill="#111"/>
<line x1="311.40" y1="205.90" x2="311.40" y2="209.10" stroke="#111" stroke-width="1.15" stroke-linecap="round"/><line x1="310.01" y1="206.70" x2="312.79" y2="208.30" stroke="#111" stroke-width="1.15" stroke-linecap="round"/><line x1="312.79" y1="206.70" x2="310.01" y2="208.30" stroke="#111" stroke-width="1.15" stroke-linecap="round"/><circle cx="311.40" cy="207.50" r="1.25" fill="#111"/>
<line x1="309.20" y1="286.8" x2="309.20" y2="291.0" stroke="#1e1e1e" stroke-width="1.1"/>
<text x="309.20" y="298.1" font-size="7.25" font-weight="bold" text-anchor="middle" fill="#111" stroke="#111" stroke-width="0.18">D14</text>
<rect x="320.50" y="226.9" width="4.0" height="59.90" fill="#5880bd"/>
<rect x="326.50" y="247.2" width="4.0" height="39.60" fill="#eb923c"/>
<line x1="321.30" y1="220.29999999999998" x2="329.70" y2="220.29999999999998" stroke="#5e5e5e" stroke-width="0.8"/>
<line x1="323.30" y1="213.30" x2="323.30" y2="216.50" stroke="#111" stroke-width="1.15" stroke-linecap="round"/><line x1="321.91" y1="214.10" x2="324.69" y2="215.70" stroke="#111" stroke-width="1.15" stroke-linecap="round"/><line x1="324.69" y1="214.10" x2="321.91" y2="215.70" stroke="#111" stroke-width="1.15" stroke-linecap="round"/><circle cx="323.30" cy="214.90" r="1.25" fill="#111"/>
<line x1="327.70" y1="213.30" x2="327.70" y2="216.50" stroke="#111" stroke-width="1.15" stroke-linecap="round"/><line x1="326.31" y1="214.10" x2="329.09" y2="215.70" stroke="#111" stroke-width="1.15" stroke-linecap="round"/><line x1="329.09" y1="214.10" x2="326.31" y2="215.70" stroke="#111" stroke-width="1.15" stroke-linecap="round"/><circle cx="327.70" cy="214.90" r="1.25" fill="#111"/>
<line x1="325.50" y1="286.8" x2="325.50" y2="291.0" stroke="#1e1e1e" stroke-width="1.1"/>
<text x="325.50" y="298.1" font-size="7.25" font-weight="bold" text-anchor="middle" fill="#111" stroke="#111" stroke-width="0.18">D18</text>
<rect x="336.80" y="226.6" width="4.0" height="60.20" fill="#5880bd"/>
<rect x="342.80" y="246.6" width="4.0" height="40.20" fill="#eb923c"/>
<line x1="337.60" y1="220.29999999999998" x2="346.00" y2="220.29999999999998" stroke="#5e5e5e" stroke-width="0.8"/>
<line x1="339.60" y1="213.30" x2="339.60" y2="216.50" stroke="#111" stroke-width="1.15" stroke-linecap="round"/><line x1="338.21" y1="214.10" x2="340.99" y2="215.70" stroke="#111" stroke-width="1.15" stroke-linecap="round"/><line x1="340.99" y1="214.10" x2="338.21" y2="215.70" stroke="#111" stroke-width="1.15" stroke-linecap="round"/><circle cx="339.60" cy="214.90" r="1.25" fill="#111"/>
<line x1="344.00" y1="213.30" x2="344.00" y2="216.50" stroke="#111" stroke-width="1.15" stroke-linecap="round"/><line x1="342.61" y1="214.10" x2="345.39" y2="215.70" stroke="#111" stroke-width="1.15" stroke-linecap="round"/><line x1="345.39" y1="214.10" x2="342.61" y2="215.70" stroke="#111" stroke-width="1.15" stroke-linecap="round"/><circle cx="344.00" cy="214.90" r="1.25" fill="#111"/>
<line x1="341.80" y1="286.8" x2="341.80" y2="291.0" stroke="#1e1e1e" stroke-width="1.1"/>
<text x="341.80" y="298.1" font-size="7.25" font-weight="bold" text-anchor="middle" fill="#111" stroke="#111" stroke-width="0.18">D21</text>
<rect x="353.10" y="226.0" width="4.0" height="60.80" fill="#5880bd"/>
<rect x="359.10" y="248.0" width="4.0" height="38.80" fill="#eb923c"/>
<line x1="353.90" y1="219.79999999999998" x2="362.30" y2="219.79999999999998" stroke="#5e5e5e" stroke-width="0.8"/>
<line x1="355.90" y1="212.70" x2="355.90" y2="215.90" stroke="#111" stroke-width="1.15" stroke-linecap="round"/><line x1="354.51" y1="213.50" x2="357.29" y2="215.10" stroke="#111" stroke-width="1.15" stroke-linecap="round"/><line x1="357.29" y1="213.50" x2="354.51" y2="215.10" stroke="#111" stroke-width="1.15" stroke-linecap="round"/><circle cx="355.90" cy="214.30" r="1.25" fill="#111"/>
<line x1="360.30" y1="212.70" x2="360.30" y2="215.90" stroke="#111" stroke-width="1.15" stroke-linecap="round"/><line x1="358.91" y1="213.50" x2="361.69" y2="215.10" stroke="#111" stroke-width="1.15" stroke-linecap="round"/><line x1="361.69" y1="213.50" x2="358.91" y2="215.10" stroke="#111" stroke-width="1.15" stroke-linecap="round"/><circle cx="360.30" cy="214.30" r="1.25" fill="#111"/>
<line x1="358.10" y1="286.8" x2="358.10" y2="291.0" stroke="#1e1e1e" stroke-width="1.1"/>
<text x="358.10" y="298.1" font-size="7.25" font-weight="bold" text-anchor="middle" fill="#111" stroke="#111" stroke-width="0.18">D24</text>
<rect x="369.40" y="229.3" width="4.0" height="57.50" fill="#5880bd"/>
<rect x="375.40" y="246.1" width="4.0" height="40.70" fill="#eb923c"/>
<line x1="370.20" y1="222.0" x2="378.60" y2="222.0" stroke="#5e5e5e" stroke-width="0.8"/>
<line x1="372.20" y1="215.50" x2="372.20" y2="218.70" stroke="#111" stroke-width="1.15" stroke-linecap="round"/><line x1="370.81" y1="216.30" x2="373.59" y2="217.90" stroke="#111" stroke-width="1.15" stroke-linecap="round"/><line x1="373.59" y1="216.30" x2="370.81" y2="217.90" stroke="#111" stroke-width="1.15" stroke-linecap="round"/><circle cx="372.20" cy="217.10" r="1.25" fill="#111"/>
<line x1="376.60" y1="215.50" x2="376.60" y2="218.70" stroke="#111" stroke-width="1.15" stroke-linecap="round"/><line x1="375.21" y1="216.30" x2="377.99" y2="217.90" stroke="#111" stroke-width="1.15" stroke-linecap="round"/><line x1="377.99" y1="216.30" x2="375.21" y2="217.90" stroke="#111" stroke-width="1.15" stroke-linecap="round"/><circle cx="376.60" cy="217.10" r="1.25" fill="#111"/>
<line x1="374.40" y1="286.8" x2="374.40" y2="291.0" stroke="#1e1e1e" stroke-width="1.1"/>
<text x="374.40" y="298.1" font-size="7.25" font-weight="bold" text-anchor="middle" fill="#111" stroke="#111" stroke-width="0.18">D28</text>
<line x1="237.2" y1="190.9" x2="384" y2="190.9" stroke="rgba(40,40,40,0.45)" stroke-width="0.75" stroke-dasharray="9,1"/>
<line x1="237.2" y1="249.5" x2="384" y2="249.5" stroke="rgba(40,40,40,0.45)" stroke-width="0.75" stroke-dasharray="9,1"/>
<line x1="237.2" y1="191.0" x2="237.2" y2="287.40000000000003" stroke="#1e1e1e" stroke-width="1.45"/>
<line x1="236.5" y1="286.8" x2="381.2" y2="286.8" stroke="#1e1e1e" stroke-width="1.35"/>
<line x1="233.6" y1="286.80" x2="237.2" y2="286.80" stroke="#1e1e1e" stroke-width="1"/>
<text x="232.1" y="289.55" font-size="7.5" font-weight="bold" text-anchor="end" fill="#111" stroke="#111" stroke-width="0.18">0</text>
<line x1="233.6" y1="262.85" x2="237.2" y2="262.85" stroke="#1e1e1e" stroke-width="1"/>
<text x="232.1" y="265.60" font-size="7.5" font-weight="bold" text-anchor="end" fill="#111" stroke="#111" stroke-width="0.18">1</text>
<line x1="233.6" y1="238.90" x2="237.2" y2="238.90" stroke="#1e1e1e" stroke-width="1"/>
<text x="232.1" y="241.65" font-size="7.5" font-weight="bold" text-anchor="end" fill="#111" stroke="#111" stroke-width="0.18">2</text>
<line x1="233.6" y1="214.95" x2="237.2" y2="214.95" stroke="#1e1e1e" stroke-width="1"/>
<text x="232.1" y="217.70" font-size="7.5" font-weight="bold" text-anchor="end" fill="#111" stroke="#111" stroke-width="0.18">3</text>
<line x1="233.6" y1="191.00" x2="237.2" y2="191.00" stroke="#1e1e1e" stroke-width="1"/>
<text x="232.1" y="193.75" font-size="7.5" font-weight="bold" text-anchor="end" fill="#111" stroke="#111" stroke-width="0.18">4</text>
<text x="221.8" y="238.1" font-size="8.2" font-weight="bold" text-anchor="middle" fill="#111" transform="rotate(-90 221.8 238.1)">LDL mmol/L</text>
<text x="309.7" y="312.2" font-size="8.0" text-anchor="middle" fill="#111"><tspan font-weight="bold">Time</tspan><tspan stroke="#111" stroke-width="0.25">(day)</tspan></text>
<text x="217.5" y="179.3" font-size="9" font-weight="bold" fill="#111">D</text>
<rect x="235" y="321.3" width="11" height="5.9" fill="#5880bd"/>
<text x="251.25" y="327.2" font-size="7.8" fill="#111">APL</text>
<rect x="281.25" y="321.3" width="11" height="5.9" fill="#eb923c"/>
<text x="297.7" y="327.2" font-size="7.8" fill="#111">non-APL</text>
<line x1="338.5" y1="324.2" x2="350.5" y2="324.2" stroke="#9a9a9a" stroke-width="0.8"/>
<text x="355.5" y="327.2" font-size="7.8" fill="#111">LLN/ULN</text>
</svg></body></html>
